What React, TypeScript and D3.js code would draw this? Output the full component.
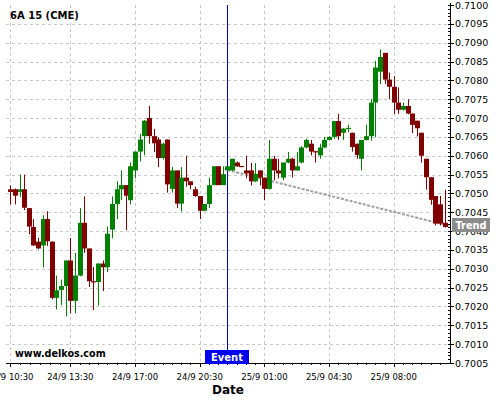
import React from "react";
import * as d3 from "d3";

const opens = [
  0.70511, 0.70511, 0.70504, 0.70511, 0.70461, 0.70411, 0.70372, 0.70362, 0.70432, 0.70372,
  0.70223, 0.70244, 0.70254, 0.70322, 0.70215, 0.70282, 0.70422, 0.70354, 0.70267, 0.70265,
  0.70314, 0.70304, 0.70404, 0.70472, 0.70511, 0.70522, 0.70482, 0.70561, 0.70611, 0.70652,
  0.70700, 0.70652, 0.70643, 0.70594, 0.70643, 0.70512, 0.70561, 0.70473, 0.70542, 0.70532,
  0.70511, 0.70493, 0.70454, 0.70472, 0.70522, 0.70572, 0.70522, 0.70561, 0.70561, 0.70582,
  0.70573, 0.70561, 0.70561, 0.70532, 0.70561, 0.70542, 0.70512, 0.70592, 0.70561, 0.70542,
  0.70582, 0.70592, 0.70561, 0.70582, 0.70622, 0.70632, 0.70612, 0.70601, 0.70622, 0.70642,
  0.70650, 0.70692, 0.70661, 0.70673, 0.70661, 0.70632, 0.70592, 0.70642, 0.70652, 0.70741,
  0.70823, 0.70873, 0.70802, 0.70783, 0.70741, 0.70722, 0.70732, 0.70712, 0.70693, 0.70661,
  0.70592, 0.70543, 0.70493, 0.70471, 0.70422,
];
const highs = [
  0.70521, 0.70513, 0.70550, 0.70550, 0.70461, 0.70432, 0.70382, 0.70442, 0.70453, 0.70373,
  0.70282, 0.70271, 0.70322, 0.70382, 0.70342, 0.70461, 0.70492, 0.70354, 0.70305, 0.70314,
  0.70322, 0.70412, 0.70492, 0.70532, 0.70561, 0.70522, 0.70582, 0.70611, 0.70658, 0.70695,
  0.70732, 0.70671, 0.70649, 0.70635, 0.70643, 0.70570, 0.70561, 0.70570, 0.70600, 0.70532,
  0.70518, 0.70493, 0.70472, 0.70542, 0.70572, 0.70572, 0.70572, 0.70572, 0.70592, 0.70585,
  0.70573, 0.70600, 0.70581, 0.70580, 0.70561, 0.70542, 0.70642, 0.70600, 0.70592, 0.70582,
  0.70610, 0.70595, 0.70610, 0.70625, 0.70645, 0.70642, 0.70613, 0.70632, 0.70650, 0.70652,
  0.70692, 0.70711, 0.70673, 0.70682, 0.70661, 0.70632, 0.70642, 0.70682, 0.70750, 0.70852,
  0.70882, 0.70873, 0.70821, 0.70811, 0.70781, 0.70741, 0.70750, 0.70712, 0.70693, 0.70661,
  0.70592, 0.70543, 0.70493, 0.70493, 0.70510,
];
const lows = [
  0.70471, 0.70471, 0.70491, 0.70456, 0.70392, 0.70361, 0.70352, 0.70304, 0.70361, 0.70219,
  0.70192, 0.70204, 0.70174, 0.70182, 0.70182, 0.70280, 0.70342, 0.70252, 0.70191, 0.70203,
  0.70241, 0.70291, 0.70381, 0.70432, 0.70482, 0.70403, 0.70471, 0.70541, 0.70585, 0.70601,
  0.70632, 0.70610, 0.70570, 0.70590, 0.70502, 0.70502, 0.70461, 0.70452, 0.70518, 0.70511,
  0.70491, 0.70432, 0.70453, 0.70461, 0.70522, 0.70522, 0.70522, 0.70561, 0.70560, 0.70570,
  0.70570, 0.70540, 0.70521, 0.70530, 0.70521, 0.70482, 0.70510, 0.70535, 0.70540, 0.70535,
  0.70580, 0.70542, 0.70560, 0.70580, 0.70620, 0.70601, 0.70582, 0.70592, 0.70620, 0.70640,
  0.70645, 0.70642, 0.70642, 0.70662, 0.70611, 0.70592, 0.70561, 0.70640, 0.70640, 0.70649,
  0.70790, 0.70790, 0.70750, 0.70711, 0.70711, 0.70720, 0.70710, 0.70660, 0.70651, 0.70582,
  0.70510, 0.70470, 0.70415, 0.70415, 0.70409,
];
const closes = [
  0.70504, 0.70494, 0.70511, 0.70462, 0.70412, 0.70362, 0.70354, 0.70432, 0.70373, 0.70223,
  0.70243, 0.70254, 0.70322, 0.70215, 0.70282, 0.70422, 0.70354, 0.70267, 0.70265, 0.70314,
  0.70304, 0.70393, 0.70472, 0.70511, 0.70522, 0.70494, 0.70572, 0.70611, 0.70643, 0.70693,
  0.70652, 0.70633, 0.70594, 0.70632, 0.70524, 0.70561, 0.70473, 0.70542, 0.70532, 0.70522,
  0.70493, 0.70454, 0.70472, 0.70522, 0.70572, 0.70522, 0.70551, 0.70572, 0.70592, 0.70572,
  0.70571, 0.70553, 0.70532, 0.70552, 0.70542, 0.70512, 0.70592, 0.70561, 0.70553, 0.70582,
  0.70592, 0.70561, 0.70572, 0.70622, 0.70642, 0.70611, 0.70611, 0.70622, 0.70642, 0.70650,
  0.70692, 0.70652, 0.70672, 0.70674, 0.70623, 0.70602, 0.70642, 0.70652, 0.70741, 0.70834,
  0.70862, 0.70802, 0.70783, 0.70741, 0.70722, 0.70732, 0.70712, 0.70682, 0.70673, 0.70600,
  0.70543, 0.70483, 0.70420, 0.70420, 0.70411,
];

const tickIndex = [0, 13, 27, 41, 55, 69, 83];
const tickLabels = [
  "24/9 10:30",
  "24/9 13:30",
  "24/9 17:00",
  "24/9 20:30",
  "25/9 01:00",
  "25/9 04:30",
  "25/9 08:00",
];
const yTickValues = [
  0.7005, 0.701, 0.7015, 0.702, 0.7025, 0.703, 0.7035, 0.704, 0.7045, 0.705,
  0.7055, 0.706, 0.7065, 0.707, 0.7075, 0.708, 0.7085, 0.709, 0.7095, 0.71,
];
const eventIndex = 47;
const trendIdx = [47, 95];
const trendVal = [0.70562, 0.70414];

const title = "6A 15 (CME)";
const watermark = "www.delkos.com";

export default function App() {
  const W = 500;
  const H = 400;
  const left = 6;
  const right = 450;
  const top = 5;
  const bottom = 363;

  const x = d3.scaleLinear().domain([-0.93, 95.17]).range([left, right]);
  const y = d3.scaleLinear().domain([0.7005, 0.71]).range([bottom, top]);

  // minor ticks every 30 minutes
  const minor: number[] = [];
  for (let k = 1; k < 6; k++) minor.push((k * 13) / 6);
  for (let m = 15; m < 95; m += 2) if (!tickIndex.includes(m)) minor.push(m);

  const yMinor: number[] = [];
  for (let k = 0; k <= 95; k++) yMinor.push(0.7005 + k * 0.0001);

  const green = "#008000";
  const red = "#800000";
  const gridColor = "#c8c8c8";
  const font = "DejaVu Sans, sans-serif";

  const trendLine = d3
    .line<number>()
    .x((_, i) => x(trendIdx[i]))
    .y((d) => y(d));

  const ex = Math.round(x(eventIndex)) + 0.5;

  return (
    <svg
      width={W}
      height={H}
      style={{ position: "absolute", left: 0, top: 0, background: "#fff" }}
      fontFamily={font}
    >
      <rect x={0} y={0} width={W} height={H} fill="#fff" />
      {/* grid */}
      <g stroke={gridColor} strokeWidth={1} strokeDasharray="3,3">
        {yTickValues
          .filter((v) => v > 0.70051 && v < 0.70999)
          .map((v, i) => (
            <line
              key={"gy" + i}
              x1={left}
              x2={right}
              y1={Math.round(y(v)) + 0.5}
              y2={Math.round(y(v)) + 0.5}
            />
          ))}
        {tickIndex.map((t, i) => (
          <line
            key={"gx" + i}
            x1={Math.round(x(t)) + 0.5}
            x2={Math.round(x(t)) + 0.5}
            y1={top}
            y2={bottom}
          />
        ))}
      </g>

      {/* event line */}
      <line x1={ex} x2={ex} y1={top} y2={bottom} stroke="#0000c0" strokeWidth={1} />

      {/* trend */}
      <path
        d={trendLine(trendVal) || ""}
        fill="none"
        stroke="#a0a0a0"
        strokeWidth={2}
        strokeDasharray="3,1.5"
      />

      {/* candles */}
      {opens.map((o, i) => {
        const c = closes[i];
        const up = c >= o;
        const col = up ? green : red;
        const cx = Math.round(x(i));
        const yt = y(Math.max(o, c));
        const yb = y(Math.min(o, c));
        const h = Math.max(1.2, yb - yt);
        return (
          <g key={"c" + i}>
            <line
              x1={cx + 0.5}
              x2={cx + 0.5}
              y1={y(highs[i])}
              y2={y(lows[i])}
              stroke={col}
              strokeWidth={1}
            />
            <rect x={cx - 2} y={yt} width={5} height={h} fill={col} />
          </g>
        );
      })}

      {/* axes */}
      <line x1={left} x2={right} y1={bottom + 0.5} y2={bottom + 0.5} stroke="#000" />
      <line x1={right + 0.5} x2={right + 0.5} y1={top - 2} y2={bottom + 0.5} stroke="#000" />
      {tickIndex.map((t, i) => (
        <g key={"xt" + i}>
          <line
            x1={Math.round(x(t)) + 0.5}
            x2={Math.round(x(t)) + 0.5}
            y1={bottom}
            y2={bottom + 4}
            stroke="#000"
          />
          <text
            x={x(t)}
            y={380}
            fontSize={8.5}
            textAnchor="middle"
            fill="#000"
          >
            {tickLabels[i]}
          </text>
        </g>
      ))}
      {minor.map((t, i) => (
        <line
          key={"xm" + i}
          x1={Math.round(x(t)) + 0.5}
          x2={Math.round(x(t)) + 0.5}
          y1={bottom}
          y2={bottom + 2}
          stroke="#000"
        />
      ))}
      {yMinor.map((v, i) => (
        <line
          key={"ym" + i}
          x1={right - 2}
          x2={right}
          y1={Math.round(y(v)) + 0.5}
          y2={Math.round(y(v)) + 0.5}
          stroke="#000"
        />
      ))}
      {yTickValues.map((v, i) => (
        <g key={"yt" + i}>
          <line
            x1={right}
            x2={right + 4}
            y1={Math.round(y(v)) + 0.5}
            y2={Math.round(y(v)) + 0.5}
            stroke="#000"
          />
          <text x={455} y={y(v) + 3.5} fontSize={9.5} fill="#000">
            {d3.format(".4f")(v)}
          </text>
        </g>
      ))}

      {/* trend label */}
      <rect x={452} y={218} width={38} height={14} fill="#8c8c8c" />
      <text x={471} y={229} fontSize={9.8} fontWeight="bold" fill="#fff" textAnchor="middle">
        Trend
      </text>

      {/* event label */}
      <rect x={205} y={350} width={44} height={14} fill="#0000ee" />
      <text x={227} y={360.8} fontSize={10} fontWeight="bold" fill="#fff" textAnchor="middle">
        Event
      </text>

      {/* titles */}
      <text x={10} y={19.3} fontSize={10} fontWeight="bold" fill="#000">
        {title}
      </text>
      <text x={15} y={357} fontSize={9.6} fontWeight="bold" fill="#000">
        {watermark}
      </text>
      <text x={228} y={393.5} fontSize={12} fontWeight="bold" fill="#000" textAnchor="middle">
        Date
      </text>
    </svg>
  );
}
